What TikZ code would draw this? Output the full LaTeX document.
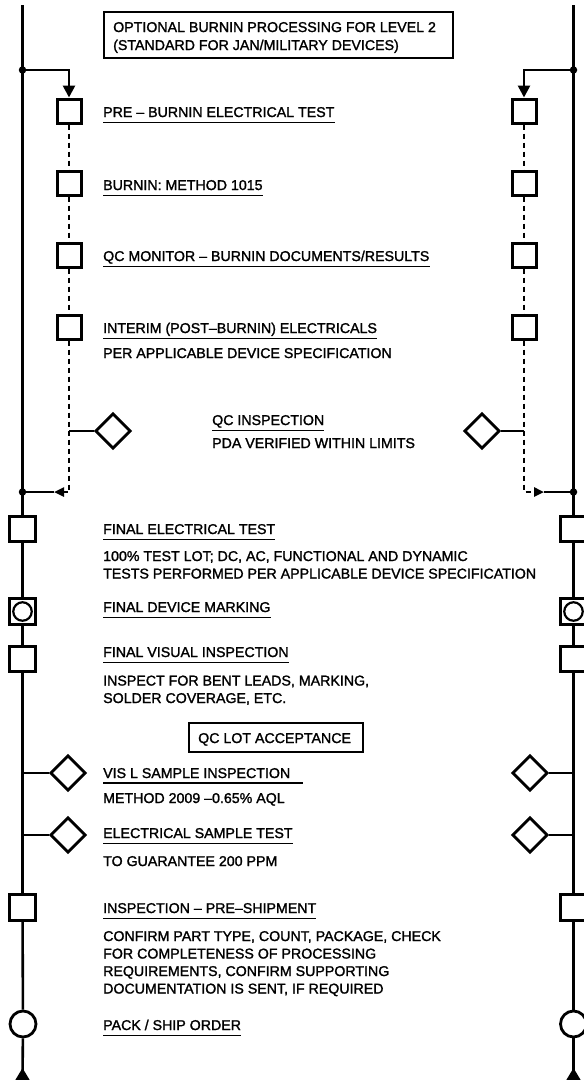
\documentclass[tikz,border=0pt]{standalone}
\usepackage{fontspec}
\setmainfont{Liberation Sans}[FakeBold=1.5]
\usetikzlibrary{arrows.meta,shapes.geometric}
\begin{document}
\begin{tikzpicture}[x=1pt,y=-1pt,
  mainline/.style={line width=2.6pt},
  dashline/.style={line width=2.4pt, dash pattern=on 5pt off 4pt},
  stepbox/.style={draw, rectangle, line width=3pt, minimum size=24pt, inner sep=0pt, fill=white},
  bigbox/.style={draw, rectangle, line width=3pt, minimum size=25.5pt, inner sep=0pt, fill=white},
  dia/.style={draw, diamond, line width=2.8pt, minimum size=35.5pt, inner sep=0pt, fill=white},
  ring/.style={draw, circle, line width=2.8pt, inner sep=0pt, fill=white},
  dot/.style={circle, fill=black, inner sep=0pt, minimum size=7.5pt},
  txt/.style={anchor=base west, inner sep=0pt, font=\fontsize{14.2}{17.5}\selectfont},
  uline/.style={line width=1.3pt},
  frame/.style={draw, line width=1.2pt, inner sep=0pt},
  bigtip/.style={-{Triangle[width=12pt,length=12pt]}},
  smalltip/.style={-{Triangle[width=9pt,length=10pt]}}]
\useasboundingbox (0,0) rectangle (584,1080);
\clip (0,0) rectangle (584,1080);

% ---------- coordinates on main lines ----------
\coordinate (topL) at (22.5,5);
\coordinate (jL1) at (22.5,70);
\coordinate (jL2) at (22.5,492);
\coordinate (botL) at (22.5,1068);
\coordinate (topR) at (573.5,5);
\coordinate (jR1) at (573.5,70);
\coordinate (jR2) at (573.5,492);
\coordinate (botR) at (573.5,1068);

% ---------- burnin branch, left ----------
\node[stepbox] (b1L) at (69,111) {};
\node[stepbox] (b2L) at (69,183) {};
\node[stepbox] (b3L) at (69,255) {};
\node[stepbox] (b4L) at (69,327) {};
\node[dia] (qcL) at (113,431) {};
\coordinate (dL) at (69,492);
\coordinate (aL) at (54,492);

% ---------- burnin branch, right ----------
\node[stepbox] (b1R) at (524,111) {};
\node[stepbox] (b2R) at (524,183) {};
\node[stepbox] (b3R) at (524,255) {};
\node[stepbox] (b4R) at (524,327) {};
\node[dia] (qcR) at (482,431) {};
\coordinate (dR) at (524,492);
\coordinate (aR) at (544,492);

% ---------- main flow, left ----------
\node[bigbox] (fetL) at (22.5,529) {};
\node[bigbox] (fdmL) at (22.5,611.5) {};
\node[ring, minimum size=18.5pt, line width=2.2pt] (fdmLc) at (22.5,611.5) {};
\node[bigbox] (fviL) at (22.5,659) {};
\node[dia] (visL) at (68,773) {};
\node[dia] (elsL) at (68,835) {};
\node[bigbox] (pshL) at (22.5,907.5) {};
\node[ring, minimum size=26pt] (packL) at (23,1024) {};

% ---------- main flow, right ----------
\node[bigbox] (fetR) at (573.5,529) {};
\node[bigbox] (fdmR) at (573.5,611.5) {};
\node[ring, minimum size=18.5pt, line width=2.2pt] (fdmRc) at (573.5,611.5) {};
\node[bigbox] (fviR) at (573.5,659) {};
\node[dia] (visR) at (530,773) {};
\node[dia] (elsR) at (530,835) {};
\node[bigbox] (pshR) at (573.5,907.5) {};
\node[ring, minimum size=26pt] (packR) at (573.5,1024) {};

% ---------- connectors ----------
\draw[mainline] (topL) -- (jL1) -- (jL2) -- (fetL);
\draw[mainline] (fetL) -- (fdmL);
\draw[mainline] (fdmL) -- (fviL);
\draw[mainline] (fviL) -- (pshL);
\draw[mainline] (pshL) -- (packL);
\draw[mainline] (packL) -- (22.5,1080);
\draw[mainline] (topR) -- (jR1) -- (jR2) -- (fetR);
\draw[mainline] (fetR) -- (fdmR);
\draw[mainline] (fdmR) -- (fviR);
\draw[mainline] (fviR) -- (pshR);
\draw[mainline] (pshR) -- (packR);
\draw[mainline] (packR) -- (573.5,1080);

\draw[mainline, bigtip] (jL1) -| (b1L);
\draw[mainline, bigtip] (jR1) -| (b1R);
\draw[dashline] (b1L) -- (b2L);
\draw[dashline] (b2L) -- (b3L);
\draw[dashline] (b3L) -- (b4L);
\draw[dashline, smalltip] (b4L) -- (dL) -- (aL);
\draw[mainline] (aL) -- (jL2);
\draw[dashline] (b1R) -- (b2R);
\draw[dashline] (b2R) -- (b3R);
\draw[dashline] (b3R) -- (b4R);
\draw[dashline, smalltip] (b4R) -- (dR) -- (aR);
\draw[mainline] (aR) -- (jR2);
\draw[mainline] (qcL.west) -- (qcL.west -| dL);
\draw[mainline] (qcR.east) -- (qcR.east -| dR);
\draw[mainline] (visL.west) -- (visL.west -| topL);
\draw[mainline] (elsL.west) -- (elsL.west -| topL);
\draw[mainline] (visR.east) -- (visR.east -| topR);
\draw[mainline] (elsR.east) -- (elsR.east -| topR);

\node[dot] (dotL1) at (jL1) {};
\node[dot] (dotL2) at (jL2) {};
\node[dot] (dotR1) at (jR1) {};
\node[dot] (dotR2) at (jR2) {};
\fill (botL) -- ++(-7.5,12.5) -- ++(15,0) -- cycle;
\fill (botR) -- ++(-7.5,12.5) -- ++(15,0) -- cycle;

% ---------- framed headings ----------
\node[frame, minimum width=349pt, minimum height=46pt] (hdr) at (278.5,35) {};
\node[txt] (h1) at (113,32) {OPTIONAL BURNIN PROCESSING FOR LEVEL 2};
\node[txt] (h2) at (113,50) {(STANDARD FOR JAN/MILITARY DEVICES)};
\node[frame, minimum width=174pt, minimum height=29pt] (lot) at (276,737.5) {};
\node[txt] (lott) at (198,743) {QC LOT ACCEPTANCE};

% ---------- texts ----------
\node[txt] (t1) at (103,117) {PRE – BURNIN ELECTRICAL TEST};
\node[txt] (t2) at (103,190) {BURNIN: METHOD 1015};
\node[txt] (t3) at (103,261) {QC MONITOR – BURNIN DOCUMENTS/RESULTS};
\node[txt] (t4) at (103,333) {INTERIM (POST–BURNIN) ELECTRICALS};
\node[txt] (t4a) at (103,358) {PER APPLICABLE DEVICE SPECIFICATION};
\node[txt] (t5) at (212,425) {QC INSPECTION};
\node[txt] (t5a) at (212,448) {PDA VERIFIED WITHIN LIMITS};
\node[txt] (t6) at (103,534) {FINAL ELECTRICAL TEST};
\node[txt] (t6a) at (103,561) {100\% TEST LOT; DC, AC, FUNCTIONAL AND DYNAMIC};
\node[txt] (t6b) at (103,578.5) {TESTS PERFORMED PER APPLICABLE DEVICE SPECIFICATION};
\node[txt] (t7) at (103,612) {FINAL DEVICE MARKING};
\node[txt] (t8) at (103,657) {FINAL VISUAL INSPECTION};
\node[txt] (t8a) at (103,685.5) {INSPECT FOR BENT LEADS, MARKING,};
\node[txt] (t8b) at (103,703) {SOLDER COVERAGE, ETC.};
\node[txt] (t9) at (103,778) {VIS L SAMPLE INSPECTION};
\node[txt] (t9a) at (103,803) {METHOD 2009 –0.65\% AQL};
\node[txt] (t10) at (103,838) {ELECTRICAL SAMPLE TEST};
\node[txt] (t10a) at (103,866) {TO GUARANTEE 200 PPM};
\node[txt] (t11) at (103,913) {INSPECTION – PRE–SHIPMENT};
\node[txt] (t11a) at (103,941) {CONFIRM PART TYPE, COUNT, PACKAGE, CHECK};
\node[txt] (t11b) at (103,958.5) {FOR COMPLETENESS OF PROCESSING};
\node[txt] (t11c) at (103,976) {REQUIREMENTS, CONFIRM SUPPORTING};
\node[txt] (t11d) at (103,993.5) {DOCUMENTATION IS SENT, IF REQUIRED};
\node[txt] (t12) at (103,1030) {PACK / SHIP ORDER};

\foreach \n in {t1,t2,t3,t4,t5,t6,t7,t8,t10,t11,t12}
  \draw[uline] ([yshift=-5.5pt]\n.base west) -- ([yshift=-5.5pt]\n.base east);
\draw[uline] ([yshift=-5pt]t9.base west) -- ([yshift=-5pt,xshift=13pt]t9.base east);
\end{tikzpicture}
\end{document}
